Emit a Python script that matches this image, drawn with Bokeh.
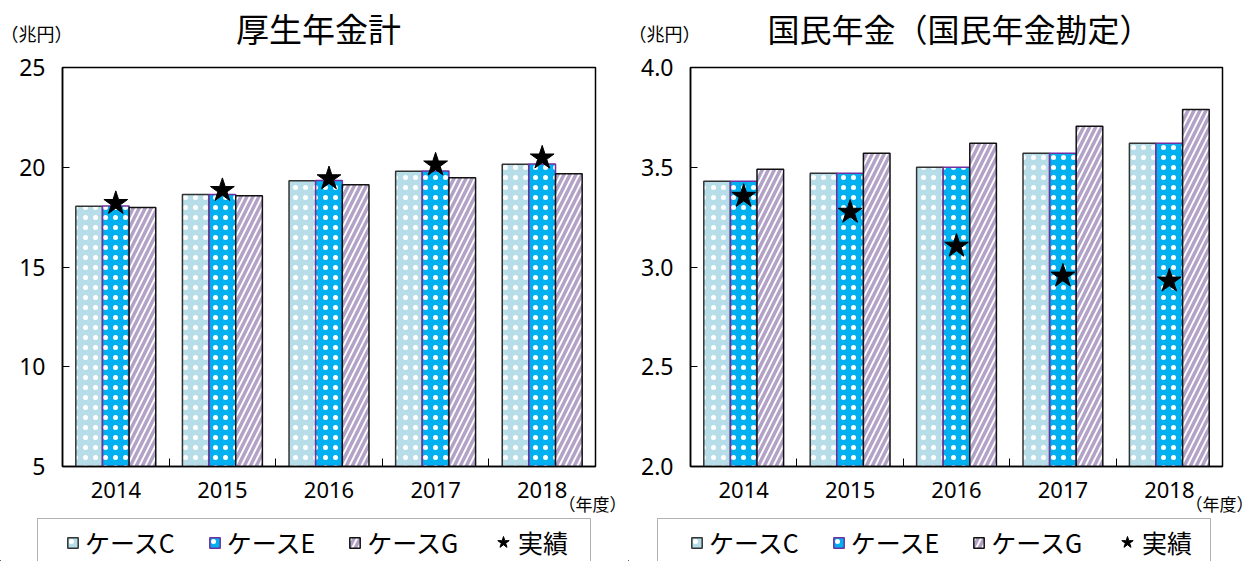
import numpy as np
from bokeh.plotting import figure
from bokeh.models import (Range1d, FixedTicker, Legend, LegendItem, Label,
                          BoxAnnotation, NumeralTickFormatter, Title)
from bokeh.layouts import row, column
from bokeh.embed import file_html
from bokeh.resources import INLINE

# ---------------- data ----------------
years = ["2014", "2015", "2016", "2017", "2018"]
series_names = ["ケースC", "ケースE", "ケースG", "実績"]

kosei_C = [18.05, 18.63, 19.32, 19.80, 20.15]
kosei_E = [18.06, 18.64, 19.33, 19.81, 20.16]
kosei_G = [17.98, 18.57, 19.12, 19.47, 19.67]
kosei_actual = [18.19, 18.84, 19.43, 20.12, 20.47]

kokumin_C = [3.43, 3.47, 3.50, 3.57, 3.62]
kokumin_E = [3.43, 3.47, 3.50, 3.57, 3.62]
kokumin_G = [3.49, 3.57, 3.62, 3.705, 3.79]
kokumin_actual = [3.355, 3.275, 3.105, 2.955, 2.93]

titles = ["厚生年金計", "国民年金（国民年金勘定）"]
unit_label = "（兆円）"
x_unit_label = "（年度）"

JP = "Noto Sans CJK JP"
NUM = "Noto Sans"

C_STYLE = dict(fill_color="#B7DDE8", hatch_pattern="dot", hatch_color="white",
               hatch_scale=10, hatch_weight=0.6, line_color="#333333",
               line_width=1.5)
E_STYLE = dict(fill_color="#00B0F0", hatch_pattern="dot", hatch_color="white",
               hatch_scale=10, hatch_weight=0.6, line_color="#7030A0",
               line_width=1.5)
G_STYLE = dict(fill_color="#B3A2C7", hatch_pattern="right_diagonal_line",
               hatch_color="white", hatch_scale=12, hatch_weight=1.9,
               line_color="#111111", line_width=1.5)
S_STYLE = dict(marker="star", fill_color="black", line_color="black")

W1, W2 = 628, 625
HEAD_H, MAIN_H, FOOT_H = 52, 465, 44


def blank(width, height, rng=(0, 1)):
    f = figure(width=width, height=height, output_backend="svg",
               toolbar_location=None, x_axis_type=None, y_axis_type=None,
               x_range=Range1d(*rng), y_range=Range1d(*rng),
               min_border=0, min_border_left=0, min_border_right=0,
               min_border_top=0, min_border_bottom=0)
    f.outline_line_color = None
    f.background_fill_color = "white"
    f.border_fill_color = "white"
    return f


def header(width, title, title_x, title_size):
    h = blank(width, HEAD_H)
    h.add_layout(Label(x=title_x, y=HEAD_H - 27, x_units="screen",
                       y_units="screen", text=title, text_font=JP,
                       text_font_size=title_size, text_align="center",
                       text_baseline="middle", text_color="black"))
    h.add_layout(Label(x=0, y=HEAD_H - 32, x_units="screen", y_units="screen",
                       text=unit_label, text_font=JP, text_font_size="18px",
                       text_align="left", text_baseline="middle",
                       text_color="black"))
    return h


def footer(width, c, e, g, act, ymin, leg_x, box_left):
    # the legend's renderers: same series, lying outside this strip's range
    n = len(years)
    xs = np.arange(n) + 0.5
    f = blank(width, FOOT_H, rng=(1000, 1001))
    rC = f.vbar(x=xs, top=c, bottom=ymin, width=0.25, **C_STYLE)
    rE = f.vbar(x=xs, top=e, bottom=ymin, width=0.25, **E_STYLE)
    rG = f.vbar(x=xs, top=g, bottom=ymin, width=0.25, **G_STYLE)
    rS = f.scatter(x=xs, y=act, size=12, **S_STYLE)
    f.add_layout(BoxAnnotation(left=box_left, right=box_left + 553,
                               top=FOOT_H - 1, bottom=-10,
                               left_units="screen", right_units="screen",
                               top_units="screen", bottom_units="screen",
                               fill_alpha=0, line_color="black",
                               line_width=1))
    common = dict(orientation="horizontal", padding=0, margin=0,
                  label_text_font=JP, label_text_font_size="25px",
                  label_text_color="black", border_line_color=None,
                  background_fill_alpha=0, label_height=30)
    legA = Legend(items=[LegendItem(label=series_names[0], renderers=[rC]),
                         LegendItem(label=series_names[1], renderers=[rE]),
                         LegendItem(label=series_names[2], renderers=[rG])],
                  location=(leg_x, 1), spacing=33, glyph_width=13,
                  glyph_height=13, label_standoff=6, **common)
    legB = Legend(items=[LegendItem(label=series_names[3], renderers=[rS])],
                  location=(leg_x + 422, 1), glyph_width=30, glyph_height=30,
                  label_standoff=0, **common)
    f.add_layout(legA)
    f.add_layout(legB)
    return f


def make_panel(c, e, g, act, ymin, ymax, ystep, fmt, width, b_left, b_right):
    n = len(years)
    xs = np.arange(n) + 0.5
    p = figure(width=width, height=MAIN_H, output_backend="svg",
               toolbar_location=None, x_range=Range1d(0, n),
               y_range=Range1d(ymin, ymax),
               min_border_left=b_left, min_border_right=b_right,
               min_border_top=67 - HEAD_H,
               min_border_bottom=HEAD_H + MAIN_H - 466)
    p.background_fill_color = "white"
    p.border_fill_color = "white"
    p.xgrid.visible = False
    p.ygrid.visible = False
    p.outline_line_color = "black"
    p.outline_line_width = 1.5

    bw = 0.25
    p.vbar(x=xs - bw, top=c, bottom=ymin, width=bw, **C_STYLE)
    p.vbar(x=xs, top=e, bottom=ymin, width=bw, **E_STYLE)
    p.vbar(x=xs + bw, top=g, bottom=ymin, width=bw, **G_STYLE)
    p.scatter(x=xs, y=act, size=25, **S_STYLE)

    # x axis
    xa = p.xaxis[0]
    xa.ticker = FixedTicker(ticks=list(xs), minor_ticks=list(range(n + 1)))
    xa.major_label_overrides = {float(x): y for x, y in zip(xs, years)}
    xa.major_tick_in = 0
    xa.major_tick_out = 0
    xa.minor_tick_in = 8
    xa.minor_tick_out = 0
    xa.minor_tick_line_color = "black"
    xa.axis_line_color = "black"
    xa.axis_line_width = 1.5
    xa.major_label_text_font = NUM
    xa.major_label_text_font_size = "22px"
    xa.major_label_text_color = "black"
    xa.major_label_standoff = 15

    # y axis
    ya = p.yaxis[0]
    ya.ticker = FixedTicker(ticks=list(np.arange(ymin, ymax + ystep / 2, ystep)))
    ya.formatter = NumeralTickFormatter(format=fmt)
    ya.major_tick_in = 7
    ya.major_tick_out = 0
    ya.minor_tick_line_color = None
    ya.axis_line_color = "black"
    ya.axis_line_width = 1.5
    ya.major_tick_line_color = "black"
    ya.major_label_text_font = NUM
    ya.major_label_text_font_size = "23px"
    ya.major_label_text_color = "black"
    ya.major_label_standoff = 17

    p.add_layout(Title(text=x_unit_label, align="right", offset=-31,
                       vertical_align="top", standoff=-19, text_font=JP,
                       text_font_size="17px", text_font_style="normal",
                       text_color="black"), "below")
    return p


p1 = make_panel(kosei_C, kosei_E, kosei_G, kosei_actual,
                5, 25, 5, "0", W1, 62, 33)
p2 = make_panel(kokumin_C, kokumin_E, kokumin_G, kokumin_actual,
                2.0, 4.0, 0.5, "0.0", W2, 62, 31)

h1 = header(W1, titles[0], 318, "33px")
h2 = header(W2, titles[1], 331, "32px")
f1 = footer(W1, kosei_C, kosei_E, kosei_G, kosei_actual, 5, 66, 37)
f2 = footer(W2, kokumin_C, kokumin_E, kokumin_G, kokumin_actual, 2.0, 62, 29)

layout = column(row(h1, h2), row(p1, p2), row(f1, f2))
open("out.html", "w").write(file_html(layout, INLINE))
